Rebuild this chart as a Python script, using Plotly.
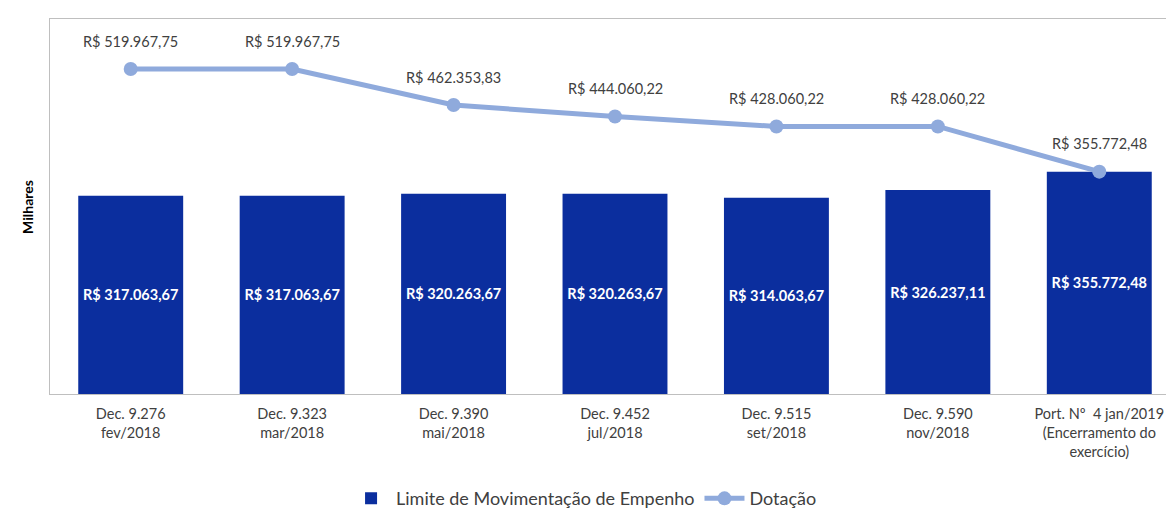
import plotly.graph_objects as go

categories = [
    "Dec. 9.276<br>fev/2018",
    "Dec. 9.323<br>mar/2018",
    "Dec. 9.390<br>mai/2018",
    "Dec. 9.452<br>jul/2018",
    "Dec. 9.515<br>set/2018",
    "Dec. 9.590<br>nov/2018",
    "Port. Nº  4 jan/2019<br>(Encerramento do<br>exercício)",
]
limite = [317063.67, 317063.67, 320263.67, 320263.67, 314063.67, 326237.11, 355772.48]
limite_labels = ["R$ 317.063,67", "R$ 317.063,67", "R$ 320.263,67", "R$ 320.263,67",
                 "R$ 314.063,67", "R$ 326.237,11", "R$ 355.772,48"]
dotacao = [519967.75, 519967.75, 462353.83, 444060.22, 428060.22, 428060.22, 355772.48]
dotacao_labels = ["R$ 519.967,75", "R$ 519.967,75", "R$ 462.353,83", "R$ 444.060,22",
                  "R$ 428.060,22", "R$ 428.060,22", "R$ 355.772,48"]

FONT = "Lato"
BAR = "#0B2E9E"
LINE = "#8FAADC"
TXT = "#404040"

fig = go.Figure()
fig.add_trace(go.Bar(
    x=categories, y=limite, name="Limite de Movimentação de Empenho",
    marker=dict(color=BAR, line=dict(width=0)),
    text=limite_labels, textposition="inside", insidetextanchor="middle",
    constraintext="none", textangle=0,
    textfont=dict(family=FONT, size=14.5, color="white", weight="bold"),
    width=0.65,
))
fig.add_trace(go.Scatter(
    x=categories, y=dotacao, name="Dotação", mode="lines+markers",
    line=dict(color=LINE, width=5),
    marker=dict(color=LINE, size=14),
))
for c, v, t in zip(categories, dotacao, dotacao_labels):
    fig.add_annotation(x=c, y=v, text=t, showarrow=False, yshift=28,
                       font=dict(family=FONT, size=14.5, color=TXT))

fig.add_annotation(xref="paper", yref="paper", x=-0.02, y=0.5, xanchor="center",
                   text="<b>Milhares</b>", textangle=-90, showarrow=False,
                   font=dict(family=FONT, size=14, color="#000000"))

fig.update_layout(
    width=1174, height=511,
    margin=dict(l=42, r=2, t=11, b=120),
    paper_bgcolor="white", plot_bgcolor="white",
    font=dict(family=FONT, size=15, color=TXT),
    showlegend=True,
    legend=dict(orientation="h", x=0.262, xanchor="left", y=-0.279, yanchor="middle",
                itemwidth=40,
                font=dict(family=FONT, size=18, color=TXT)),
    xaxis=dict(showgrid=False, showline=True, linecolor="#BFBFBF", mirror=True,
               ticks="", tickfont=dict(family=FONT, size=14.5, color=TXT),
               ticklabelstandoff=7),
    yaxis=dict(range=[0, 600000], showgrid=False, showticklabels=False,
               showline=True, linecolor="#BFBFBF", mirror=True, ticks="",
               zeroline=False),
)
fig.write_html("out.html")
